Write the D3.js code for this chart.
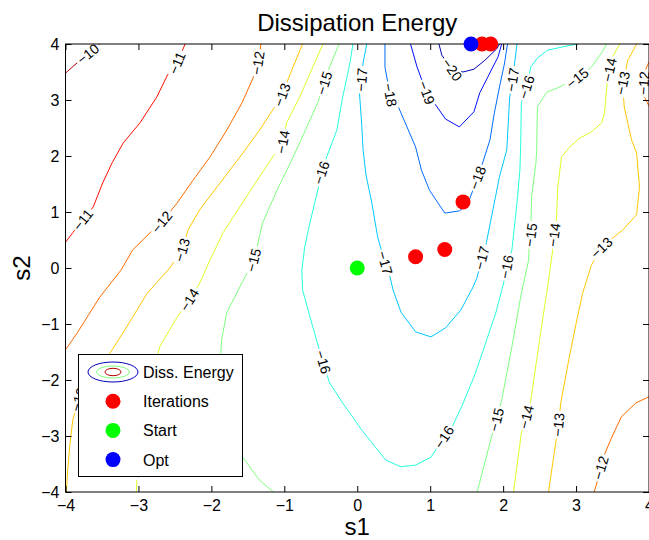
<!DOCTYPE html>
<html>
<head>
<meta charset="utf-8">
<script src="https://cdn.jsdelivr.net/npm/d3@7"></script>
<style>
    body { margin: 0; background: #fff; }
    svg { display: block; font-family: "Liberation Sans", Arial, Helvetica, sans-serif; }
</style>
</head>
<body>
<script>
// уровни изолиний
var levels = [-10, -11, -12, -13, -14, -15, -16, -17, -18, -19, -20]
var xTicks = [-4, -3, -2, -1, 0, 1, 2, 3, 4]
var yTicks = [-4, -3, -2, -1, 0, 1, 2, 3, 4]

// изолинии, точки [s1, s2]
var c10 = [[-4.0, 3.48], [-3.87, 3.63], [-3.69, 3.82], [-3.53, 4.0]]
var c11 = [[-2.36, 4.0], [-2.47, 3.66], [-2.6, 3.45], [-2.75, 3.05], [-2.98, 2.59], [-3.21, 2.23], [-3.36, 1.88], [-3.49, 1.52], [-3.62, 1.09], [-3.76, 0.86], [-3.9, 0.63], [-4.0, 0.46]]
var c12a = [[-1.32, 4.0], [-1.36, 3.66], [-1.43, 3.39], [-1.58, 2.95], [-1.79, 2.46], [-2.02, 1.98], [-2.25, 1.57], [-2.47, 1.16], [-2.68, 0.82], [-2.84, 0.63], [-3.08, 0.32], [-3.24, -0.04], [-3.53, -0.52], [-3.84, -1.16], [-4.0, -1.46]]
var c12b = [[4.0, 3.68], [3.94, 3.5], [3.93, 3.3], [3.94, 3.05], [4.0, 2.89]]
var c12c = [[4.0, -2.3], [3.82, -2.41], [3.62, -2.66], [3.49, -3.02], [3.4, -3.3], [3.34, -3.57], [3.27, -3.91], [3.24, -4.02]]
var c13a = [[-0.75, 4.0], [-0.88, 3.59], [-0.97, 3.3], [-1.03, 3.09], [-1.16, 2.82], [-1.34, 2.46], [-1.61, 1.98], [-1.88, 1.52], [-2.16, 1.04], [-2.32, 0.68], [-2.4, 0.32], [-2.57, 0.0], [-2.88, -0.45], [-3.16, -1.05], [-3.39, -1.52], [-3.64, -1.88], [-3.8, -2.27], [-3.9, -2.71], [-3.94, -3.16], [-3.97, -3.61], [-3.99, -4.02]]
var c13b = [[3.83, 4.0], [3.71, 3.71], [3.64, 3.3], [3.66, 2.88], [3.76, 2.29], [3.83, 2.05], [3.87, 1.45], [3.84, 1.09], [3.83, 0.95], [3.64, 0.68], [3.43, 0.46], [3.35, 0.36], [3.21, 0.05], [3.09, -0.45], [3.01, -0.93], [2.9, -1.64], [2.79, -2.41], [2.76, -2.8], [2.72, -3.13], [2.62, -4.02]]
var c14a = [[-0.47, 4.0], [-0.61, 3.59], [-0.79, 3.05], [-0.97, 2.59], [-1.02, 2.25], [-1.16, 1.98], [-1.34, 1.63], [-1.61, 1.09], [-1.84, 0.63], [-2.02, 0.14], [-2.16, -0.27], [-2.3, -0.57], [-2.47, -0.88], [-2.71, -1.41], [-2.87, -2.36], [-2.97, -3.16], [-3.02, -3.75], [-3.03, -4.02]]
var c14b = [[3.6, 4.0], [3.5, 3.77], [3.46, 3.54], [3.42, 3.23], [3.39, 2.77], [3.35, 2.59], [3.21, 2.43], [3.05, 2.32], [2.91, 2.16], [2.8, 1.98], [2.75, 1.45], [2.73, 0.86], [2.7, 0.59], [2.68, 0.32], [2.61, -0.34], [2.54, -0.93], [2.46, -1.64], [2.38, -2.36], [2.32, -2.66], [2.25, -2.95], [2.14, -4.02]]
var c15a = [[-0.25, 4.0], [-0.38, 3.59], [-0.45, 3.3], [-0.54, 2.96], [-0.69, 2.52], [-0.88, 1.98], [-1.1, 1.39], [-1.3, 0.8], [-1.36, 0.45], [-1.42, 0.14], [-1.61, -0.34], [-1.79, -0.8], [-1.86, -1.29], [-1.87, -1.52], [-1.84, -2.0], [-1.77, -2.54], [-1.66, -3.07], [-1.57, -3.38], [-1.34, -3.79], [-1.13, -4.02]]
var c15b = [[3.42, 4.0], [3.35, 3.84], [3.21, 3.59], [3.02, 3.39], [2.77, 3.23], [2.6, 3.14], [2.47, 2.88], [2.46, 2.11], [2.45, 1.88], [2.39, 1.27], [2.38, 0.68], [2.36, 0.5], [2.35, 0.14], [2.25, -0.45], [2.12, -1.41], [1.98, -2.36], [1.91, -2.71], [1.84, -3.02], [1.64, -4.02]]
var c16 = [[-0.06, 4.0], [-0.1, 3.66], [-0.2, 3.05], [-0.28, 2.46], [-0.42, 1.98], [-0.49, 1.7], [-0.55, 1.34], [-0.65, 0.8], [-0.72, 0.38], [-0.76, -0.04], [-0.75, -0.39], [-0.61, -1.05], [-0.47, -1.68], [-0.38, -2.05], [-0.2, -2.41], [-0.08, -2.63], [0.06, -2.89], [0.39, -3.43], [0.6, -3.55], [0.8, -3.52], [1.01, -3.38], [1.19, -3.02], [1.3, -2.84], [1.43, -2.48], [1.62, -1.88], [1.76, -1.34], [1.9, -0.8], [2.01, -0.25], [2.05, 0.02], [2.12, 0.32], [2.19, 1.16], [2.23, 1.75], [2.24, 2.16], [2.25, 2.95], [2.32, 3.23], [2.38, 3.59], [2.47, 3.75], [2.61, 3.89], [2.82, 3.95], [3.03, 4.0]]
var c17 = [[0.13, 4.0], [0.08, 3.66], [0.06, 3.36], [0.03, 3.13], [0.06, 2.59], [0.08, 2.11], [0.12, 1.66], [0.2, 1.16], [0.28, 0.55], [0.38, 0.09], [0.45, -0.16], [0.49, -0.39], [0.6, -0.79], [0.8, -1.14], [1.01, -1.23], [1.21, -1.07], [1.42, -0.75], [1.58, -0.36], [1.64, -0.18], [1.71, 0.18], [1.77, 0.45], [1.86, 1.04], [1.95, 1.63], [2.05, 2.11], [2.09, 3.05], [2.13, 3.36], [2.19, 4.0]]
var c18 = [[0.38, 4.0], [0.38, 3.59], [0.45, 3.09], [0.54, 2.95], [0.8, 2.16], [0.88, 1.75], [0.99, 1.39], [1.2, 0.98], [1.4, 1.02], [1.51, 1.13], [1.65, 1.61], [1.71, 1.84], [1.82, 2.29], [1.88, 2.77], [1.95, 3.23], [2.02, 3.66], [2.06, 4.0]]
var c19 = [[0.73, 4.0], [0.82, 3.59], [0.95, 3.13], [1.05, 2.96], [1.21, 2.66], [1.4, 2.52], [1.6, 2.79], [1.68, 3.13], [1.79, 3.41], [1.93, 3.77], [1.98, 4.0]]
var c20 = [[1.12, 4.0], [1.16, 3.8], [1.3, 3.54], [1.45, 3.5], [1.6, 3.55], [1.75, 3.71], [1.91, 3.91], [1.95, 4.0]]

// подписи изолиний
var labelLevel = [-10, -11, -11, -12, -12, -12, -12, -13, -13, -13, -13, -13, -13, -14, -14, -14, -14, -14, -14, -15, -15, -15, -15, -15, -16, -16, -16, -16, -16, -17, -17, -17, -17, -18, -18, -19, -20]
var labelS1 = [-3.69, -2.47, -3.76, -1.36, -2.68, 3.93, 3.34, -1.03, -2.4, -3.82, 3.64, 3.35, 2.76, -1.02, -2.3, -2.99, 3.46, 2.7, 2.32, -0.45, -1.42, 3.02, 2.38, 1.91, -0.49, -0.47, 1.19, 2.05, 2.32, 0.06, 0.38, 1.71, 2.13, 0.45, 1.65, 0.95, 1.3]
var labelS2 = [3.82, 3.66, 0.86, 3.66, 0.82, 3.3, -3.57, 3.09, 0.32, -2.35, 3.3, 0.36, -2.8, 2.25, -0.57, -3.54, 3.54, 0.59, -2.66, 3.3, 0.14, 3.39, 0.59, -2.71, 1.7, -1.68, -3.02, 0.02, 3.23, 3.36, 0.09, 0.18, 3.36, 3.09, 1.61, 3.13, 3.54]

// точки
var iterS1 = [0.8, 1.2, 1.45, 1.83, 1.71]
var iterS2 = [0.2, 0.33, 1.18, 4.0, 4.0]
var startS1 = [0]
var startS2 = [0]
var optS1 = [1.56]
var optS2 = [4.0]

var legendLabels = ['Diss. Energy', 'Iterations', 'Start', 'Opt']

var contourSets = [
    [-10, [c10]], [-11, [c11]], [-12, [c12a, c12b, c12c]], [-13, [c13a, c13b]],
    [-14, [c14a, c14b]], [-15, [c15a, c15b]], [-16, [c16]], [-17, [c17]],
    [-18, [c18]], [-19, [c19]], [-20, [c20]]
]

var w = 649,
    h = 540,
    pLeft = 65.5,
    pRight = 649,
    pTop = 44,
    pBottom = 492

var x = d3.scaleLinear().domain([-4, 4]).range([pLeft, pRight]),
    y = d3.scaleLinear().domain([-4, 4]).range([pBottom, pTop]),
    toT = d3.scaleLinear().domain([-20, -10]).range([0.05, 0.95])

// цвета как jet в матлабе
function jet(t) {
    var c = function (v) { return Math.max(0, Math.min(1, v)) }
    return d3.rgb(
        255 * c(Math.min(4 * t - 1.5, -4 * t + 4.5)),
        255 * c(Math.min(4 * t - 0.5, -4 * t + 3.5)),
        255 * c(Math.min(4 * t + 0.5, -4 * t + 2.5))
    ).formatHex()
}
function levelColor(l) { return jet(toT(l)) }

var svg = d3.select('body').append('svg').attr('width', w).attr('height', h)

svg.append('clipPath').attr('id', 'plotclip')
    .append('rect').attr('x', pLeft).attr('y', pTop)
    .attr('width', pRight - pLeft).attr('height', pBottom - pTop)

var line = d3.line().x(function (d) { return x(d[0]) }).y(function (d) { return y(d[1]) })

var gLines = svg.append('g').attr('clip-path', 'url(#plotclip)')
contourSets.forEach(function (set) {
    set[1].forEach(function (pts) {
        gLines.append('path')
            .attr('d', line(pts))
            .attr('fill', 'none')
            .attr('stroke', levelColor(set[0]))
            .attr('stroke-width', 1)
    })
})

// угол подписи по ближайшему отрезку линии
function labelAngle(level, px, py) {
    var best = Infinity, ang = 0
    contourSets.forEach(function (set) {
        if (set[0] !== level) return
        set[1].forEach(function (pts) {
            for (var i = 0; i < pts.length - 1; i++) {
                var x1 = x(pts[i][0]), y1 = y(pts[i][1]),
                    x2 = x(pts[i + 1][0]), y2 = y(pts[i + 1][1])
                var dx = x2 - x1, dy = y2 - y1,
                    t = ((px - x1) * dx + (py - y1) * dy) / (dx * dx + dy * dy || 1)
                t = Math.max(0, Math.min(1, t))
                var ex = x1 + t * dx - px, ey = y1 + t * dy - py,
                    dist = ex * ex + ey * ey
                if (dist < best) {
                    best = dist
                    ang = Math.atan2(dy, dx) * 180 / Math.PI
                }
            }
        })
    })
    while (ang > 90) ang -= 180
    while (ang <= -90) ang += 180
    return ang
}

var gLabels = svg.append('g')
labelLevel.forEach(function (lv, i) {
    var px = x(labelS1[i]), py = y(labelS2[i])
    var g = gLabels.append('g')
        .attr('transform', 'translate(' + px + ',' + py + ') rotate(' + labelAngle(lv, px, py) + ')')
    var bg = g.append('rect').attr('fill', '#fff')
    var txt = g.append('text')
        .attr('text-anchor', 'middle')
        .attr('dy', '0.35em')
        .attr('font-size', 14)
        .text('\u2212' + Math.abs(lv))
    var len = txt.node().getComputedTextLength() + 4
    bg.attr('x', -len / 2).attr('y', -6.5).attr('width', len).attr('height', 13)
})

// оси
function styleAxis(g) {
    g.select('.domain').remove()
    g.attr('font-size', 16).attr('font-family', null)
    g.selectAll('line').attr('stroke', '#000')
    g.selectAll('text').attr('fill', '#000')
}
svg.append('g').attr('transform', 'translate(0,' + pBottom + ')')
    .call(d3.axisBottom(x).tickValues(xTicks).tickSizeInner(-6).tickSizeOuter(0).tickPadding(8))
    .call(styleAxis)
svg.append('g').attr('transform', 'translate(0,' + pTop + ')')
    .call(d3.axisTop(x).tickValues(xTicks).tickSizeInner(-6).tickSizeOuter(0).tickFormat(''))
    .call(styleAxis)
svg.append('g').attr('transform', 'translate(' + pLeft + ',0)')
    .call(d3.axisLeft(y).tickValues(yTicks).tickSizeInner(-6).tickSizeOuter(0).tickPadding(6))
    .call(styleAxis)
svg.append('g').attr('transform', 'translate(' + pRight + ',0)')
    .call(d3.axisRight(y).tickValues(yTicks).tickSizeInner(-6).tickSizeOuter(0).tickFormat(''))
    .call(styleAxis)

svg.append('rect')
    .attr('x', pLeft).attr('y', pTop)
    .attr('width', pRight - pLeft).attr('height', pBottom - pTop)
    .attr('fill', 'none').attr('stroke', '#000').attr('stroke-width', 1)

// подписи
svg.append('text').attr('x', (pLeft + pRight) / 2).attr('y', 31)
    .attr('text-anchor', 'middle').attr('font-size', 24).text('Dissipation Energy')
svg.append('text').attr('x', (pLeft + pRight) / 2).attr('y', 535)
    .attr('text-anchor', 'middle').attr('font-size', 24).text('s1')
svg.append('text').attr('transform', 'translate(30,' + (pTop + pBottom) / 2 + ') rotate(-90)')
    .attr('text-anchor', 'middle').attr('font-size', 24).text('s2')

// легенда
var lg = svg.append('g')
lg.append('rect').attr('x', 78.5).attr('y', 354.5).attr('width', 164).attr('height', 122)
    .attr('fill', '#fff').attr('stroke', '#000').attr('stroke-width', 1)
var rowY = function (i) { return 372 + i * 29.2 }
var icons = [
    [25, 10, levelColor(-20)],
    [16.5, 6, levelColor(-15)],
    [8, 3.7, levelColor(-10)]
]
icons.forEach(function (e) {
    lg.append('ellipse').attr('cx', 113).attr('cy', rowY(0)).attr('rx', e[0]).attr('ry', e[1])
        .attr('fill', 'none').attr('stroke', e[2]).attr('stroke-width', 1)
})
var dotColors = ['#ff0000', '#00ff00', '#0000ff']
dotColors.forEach(function (c, i) {
    lg.append('circle').attr('cx', 113).attr('cy', rowY(i + 1)).attr('r', 7.5).attr('fill', c)
})
lg.selectAll('text.lbl').data(legendLabels).enter().append('text')
    .attr('class', 'lbl')
    .attr('x', 143)
    .attr('y', function (d, i) { return rowY(i) })
    .attr('dy', '0.37em')
    .attr('font-size', 16)
    .text(function (d) { return d })

// точки итераций, старт, оптимум
svg.selectAll('circle.iter').data(d3.range(iterS1.length)).enter().append('circle')
    .attr('class', 'iter')
    .attr('cx', function (i) { return x(iterS1[i]) })
    .attr('cy', function (i) { return y(iterS2[i]) })
    .attr('r', 7.5).attr('fill', '#ff0000')
svg.selectAll('circle.start').data(d3.range(startS1.length)).enter().append('circle')
    .attr('class', 'start')
    .attr('cx', function (i) { return x(startS1[i]) })
    .attr('cy', function (i) { return y(startS2[i]) })
    .attr('r', 7.5).attr('fill', '#00ff00')
svg.selectAll('circle.opt').data(d3.range(optS1.length)).enter().append('circle')
    .attr('class', 'opt')
    .attr('cx', function (i) { return x(optS1[i]) })
    .attr('cy', function (i) { return y(optS2[i]) })
    .attr('r', 7.5).attr('fill', '#0000ff')
</script>
</body>
</html>
